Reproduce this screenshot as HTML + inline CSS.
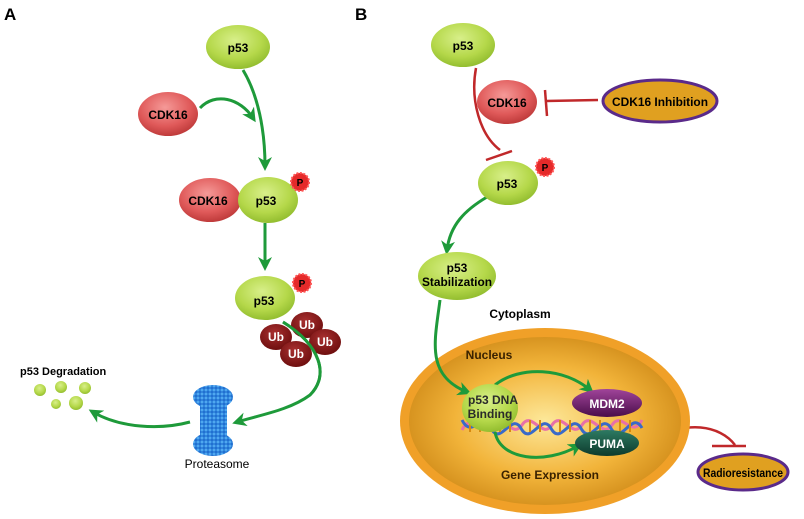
<!DOCTYPE html>
<html><head><meta charset="utf-8"><style>
html,body{margin:0;padding:0;background:#fff;}
svg{display:block;font-family:"Liberation Sans",Arial,sans-serif;}
</style></head><body>
<svg width="804" height="519" viewBox="0 0 804 519" xmlns="http://www.w3.org/2000/svg">
<defs>
<radialGradient id="g" cx="45%" cy="35%" r="70%"><stop offset="0" stop-color="#d8ef8a"/><stop offset="0.6" stop-color="#b5d84a"/><stop offset="1" stop-color="#8cb82a"/></radialGradient>
<radialGradient id="r" cx="45%" cy="35%" r="70%"><stop offset="0" stop-color="#f59a98"/><stop offset="0.6" stop-color="#e05a5a"/><stop offset="1" stop-color="#b83434"/></radialGradient>
<radialGradient id="ub" cx="45%" cy="35%" r="70%"><stop offset="0" stop-color="#a83030"/><stop offset="1" stop-color="#6a0c0c"/></radialGradient>
<radialGradient id="nuc" cx="50%" cy="50%" r="55%"><stop offset="0" stop-color="#fde89a"/><stop offset="0.6" stop-color="#f2b43a"/><stop offset="1" stop-color="#cf8a18"/></radialGradient>
<linearGradient id="md" x1="0" y1="0" x2="0" y2="1"><stop offset="0" stop-color="#a0449a"/><stop offset="1" stop-color="#4a0d4a"/></linearGradient>
<linearGradient id="pu" x1="0" y1="0" x2="0" y2="1"><stop offset="0" stop-color="#2d7a62"/><stop offset="1" stop-color="#0d3a2c"/></linearGradient>
<marker id="ah" markerWidth="16" markerHeight="16" refX="9" refY="7" orient="auto" markerUnits="userSpaceOnUse"><path d="M0,0 L14,7 L0,14 L4,7 Z" fill="#1e9a3a"/></marker>
<pattern id="dots" width="4" height="4" patternUnits="userSpaceOnUse"><rect width="4" height="4" fill="#1f6fd0"/><circle cx="2" cy="2" r="1.5" fill="#4fa8f0"/></pattern>
</defs>

<text x="4" y="20" font-size="17" font-weight="bold">A</text>
<text x="355" y="20" font-size="17" font-weight="bold">B</text>

<g fill="none" stroke="#1e9a3a" stroke-width="3">
<path d="M243,70 C258,95 265,130 265,166" marker-end="url(#ah)"/>
<path d="M200,108 C215,92 240,98 253,118" marker-end="url(#ah)"/>
<path d="M265,223 L265,266" marker-end="url(#ah)"/>
<path d="M283,322 C320,345 330,375 310,395 C290,410 260,415 237,422" marker-end="url(#ah)"/>
<path d="M190,422 C160,430 120,428 93,412" marker-end="url(#ah)"/>
</g>

<ellipse cx="238" cy="47" rx="32" ry="22" fill="url(#g)"/>
<text x="238" y="52" font-size="12" font-weight="bold" text-anchor="middle">p53</text>
<ellipse cx="168" cy="114" rx="30" ry="22" fill="url(#r)"/>
<text x="168" y="119" font-size="12" font-weight="bold" text-anchor="middle">CDK16</text>

<ellipse cx="210" cy="200" rx="31" ry="22" fill="url(#r)"/>
<text x="208" y="205" font-size="12" font-weight="bold" text-anchor="middle">CDK16</text>
<ellipse cx="268" cy="200" rx="30" ry="23" fill="url(#g)"/>
<text x="266" y="205" font-size="12" font-weight="bold" text-anchor="middle">p53</text>
<circle cx="300" cy="182" r="9" fill="#e52a2a" stroke="#f55" stroke-width="2" stroke-dasharray="2 1.5"/>
<text x="300" y="186" font-size="10" font-weight="bold" text-anchor="middle">P</text>

<ellipse cx="265" cy="298" rx="30" ry="22" fill="url(#g)"/>
<text x="264" y="305" font-size="12" font-weight="bold" text-anchor="middle">p53</text>
<circle cx="302" cy="283" r="9" fill="#e52a2a" stroke="#f55" stroke-width="2" stroke-dasharray="2 1.5"/>
<text x="302" y="287" font-size="10" font-weight="bold" text-anchor="middle">P</text>

<g font-size="12" font-weight="bold" fill="#fff" text-anchor="middle">
<ellipse cx="276" cy="337" rx="16" ry="13" fill="url(#ub)"/><text x="276" y="341">Ub</text>
<ellipse cx="307" cy="325" rx="16" ry="13" fill="url(#ub)"/><text x="307" y="329">Ub</text>
<ellipse cx="325" cy="342" rx="16" ry="13" fill="url(#ub)"/><text x="325" y="346">Ub</text>
<ellipse cx="296" cy="354" rx="16" ry="13" fill="url(#ub)"/><text x="296" y="358">Ub</text>
</g>
<path d="M283,322 C320,345 330,375 310,395" fill="none" stroke="#1e9a3a" stroke-width="3"/>

<ellipse cx="213" cy="397" rx="20" ry="12" fill="url(#dots)"/>
<rect x="200" y="398" width="27" height="44" fill="url(#dots)"/>
<ellipse cx="213" cy="444" rx="20" ry="12" fill="url(#dots)"/>
<text x="217" y="468" font-size="12" text-anchor="middle">Proteasome</text>

<text x="20" y="375" font-size="11" font-weight="bold">p53 Degradation</text>
<g fill="url(#g)">
<circle cx="40" cy="390" r="6"/><circle cx="61" cy="387" r="6"/><circle cx="85" cy="388" r="6"/>
<circle cx="56" cy="404" r="5"/><circle cx="76" cy="403" r="7"/>
</g>

<g fill="none" stroke="#c0282a" stroke-width="2.5">
<path d="M476,68 C470,100 480,135 500,150"/>
<path d="M486,160 L512,151"/>
<path d="M598,100 L546,101"/>
<path d="M545,90 L547,116"/>
<path d="M655,440 C685,420 720,425 735,445"/>
<path d="M712,446 L746,446"/>
</g>
<g fill="none" stroke="#1e9a3a" stroke-width="3">
<path d="M487,197 C465,210 450,225 447,250" marker-end="url(#ah)"/>
</g>

<ellipse cx="463" cy="45" rx="32" ry="22" fill="url(#g)"/>
<text x="463" y="50" font-size="12" font-weight="bold" text-anchor="middle">p53</text>
<ellipse cx="507" cy="102" rx="30" ry="22" fill="url(#r)"/>
<text x="507" y="107" font-size="12" font-weight="bold" text-anchor="middle">CDK16</text>
<ellipse cx="660" cy="101" rx="57" ry="21" fill="#e0a020" stroke="#5a2a8a" stroke-width="3"/>
<text x="660" y="106" font-size="12" font-weight="bold" text-anchor="middle" textLength="96" lengthAdjust="spacingAndGlyphs">CDK16 Inhibition</text>

<ellipse cx="508" cy="183" rx="30" ry="22" fill="url(#g)"/>
<text x="507" y="188" font-size="12" font-weight="bold" text-anchor="middle">p53</text>
<circle cx="545" cy="167" r="9" fill="#e52a2a" stroke="#f55" stroke-width="2" stroke-dasharray="2 1.5"/>
<text x="545" y="171" font-size="10" font-weight="bold" text-anchor="middle">P</text>

<ellipse cx="457" cy="276" rx="39" ry="24" fill="url(#g)"/>
<text x="457" y="272" font-size="12" font-weight="bold" text-anchor="middle">p53</text>
<text x="457" y="286" font-size="12" font-weight="bold" text-anchor="middle" textLength="70" lengthAdjust="spacingAndGlyphs">Stabilization</text>

<text x="520" y="318" font-size="12" font-weight="bold" text-anchor="middle">Cytoplasm</text>
<ellipse cx="545" cy="421" rx="145" ry="93" fill="#f0a028"/>
<ellipse cx="545" cy="421" rx="136" ry="84" fill="url(#nuc)"/>
<path d="M440,300 C435,340 425,375 467,392" fill="none" stroke="#1e9a3a" stroke-width="3" marker-end="url(#ah)"/>
<text x="489" y="359" font-size="12" font-weight="bold" fill="#3a2200" text-anchor="middle">Nucleus</text>

<g fill="none" stroke-width="3">
<path d="M462,430 C472,410 482,440 492,425 C502,410 512,440 522,425 C532,410 542,440 552,425 C562,410 572,440 582,425 C592,410 602,440 612,425 C622,410 632,440 642,420" stroke="#e870a8"/>
<path d="M462,420 C472,440 482,410 492,430 C502,445 512,410 522,430 C532,445 542,410 552,430 C562,445 572,410 582,430 C592,445 602,410 612,430 C622,445 632,410 642,428" stroke="#3a6ac8"/>
</g>
<g stroke="#d88a10" stroke-width="2">
<path d="M470,420v12M480,420v12M500,420v12M510,420v12M530,420v12M540,420v12M560,420v12M570,420v12M590,420v12M600,420v12M620,420v12M630,420v12"/>
</g>

<g fill="none" stroke="#1e9a3a" stroke-width="3">
<path d="M495,385 C520,365 565,368 590,390" marker-end="url(#ah)"/>
<path d="M495,432 C500,460 545,465 578,446" marker-end="url(#ah)"/>
</g>

<ellipse cx="490" cy="408" rx="28" ry="24" fill="url(#g)"/>
<text x="493" y="404" font-size="12" font-weight="bold" text-anchor="middle" fill="#2a2a2a">p53 DNA</text>
<text x="490" y="418" font-size="12" font-weight="bold" text-anchor="middle" fill="#2a2a2a">Binding</text>

<ellipse cx="607" cy="403" rx="35" ry="14" fill="url(#md)"/>
<text x="607" y="408" font-size="12" font-weight="bold" fill="#fff" text-anchor="middle">MDM2</text>
<ellipse cx="607" cy="443" rx="32" ry="13" fill="url(#pu)"/>
<text x="607" y="448" font-size="12" font-weight="bold" fill="#fff" text-anchor="middle">PUMA</text>

<text x="550" y="479" font-size="12" font-weight="bold" fill="#3a2200" text-anchor="middle">Gene Expression</text>

<ellipse cx="743" cy="472" rx="45" ry="18" fill="#e0a020" stroke="#5a2a8a" stroke-width="3"/>
<text x="743" y="477" font-size="12" font-weight="bold" text-anchor="middle" textLength="80" lengthAdjust="spacingAndGlyphs">Radioresistance</text>
</svg>
</body></html>
